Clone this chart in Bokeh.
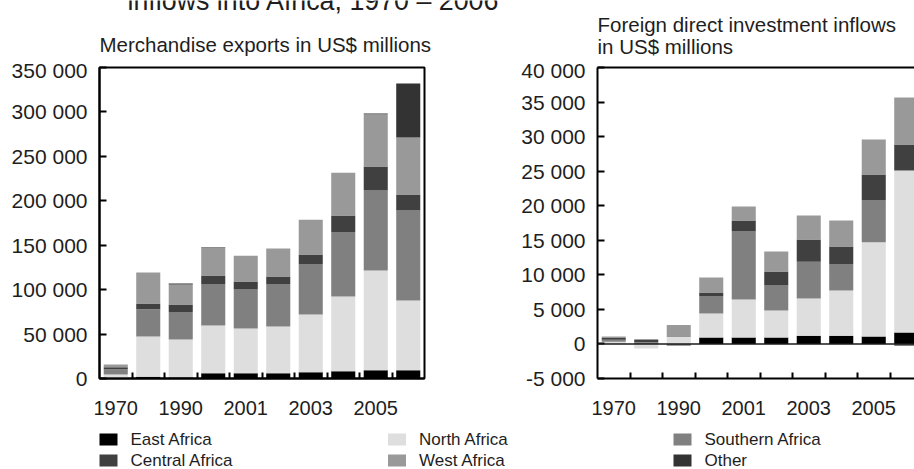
from bokeh.plotting import figure
from bokeh.models import FixedTicker, LinearAxis, Range1d, Span
from bokeh.layouts import row, column
from bokeh.embed import file_html
from bokeh.resources import INLINE
from bokeh.core.properties import value

# ---------------- data ----------------
years = ["1970", "1980", "1990", "2000", "2001", "2002", "2003", "2004", "2005", "2006"]
shown_years = ["1970", "1990", "2001", "2003", "2005"]

regions = ["East Africa", "North Africa", "Southern Africa", "Central Africa", "West Africa", "Other"]
colors = ["#000000", "#dedede", "#808080", "#404040", "#999999", "#333333"]

# Merchandise exports, US$ millions
exp_east     = [1000, 2000, 1500, 6000, 6000, 6000, 7100, 8200, 9400, 9400]
exp_north    = [3500, 45300, 42400, 53600, 50300, 52500, 64900, 84100, 112100, 78400]
exp_southern = [6000, 30700, 30400, 46200, 43900, 47300, 56300, 72000, 90100, 101300]
exp_central  = [2200, 6400, 9000, 10100, 9000, 9000, 11200, 19100, 27000, 18000]
exp_west     = [3100, 34900, 22500, 31200, 28900, 31500, 39100, 48100, 58800, 64100]
exp_other    = [0, 0, 1100, 500, 0, 0, 0, 0, 800, 60800]

# Foreign direct investment inflows, US$ millions
fdi_east     = [0, 0, 0, 930, 930, 930, 1200, 1200, 1070, 1650]
fdi_north    = [330, -670, 1070, 3470, 5490, 3900, 5370, 6520, 13630, 23450]
fdi_southern = [290, 250, -250, 2460, 9840, 3620, 5330, 3780, 6050, -300]
fdi_central  = [250, 390, 80, 580, 1590, 2030, 3200, 2600, 3750, 3750]
fdi_west     = [190, 0, 1590, 2160, 2030, 2890, 3480, 3750, 5100, 6800]
fdi_other    = [0, 0, 0, 0, 0, 0, 0, 0, 0, 0]

exp_ticks = [0, 50000, 100000, 150000, 200000, 250000, 300000, 350000]
exp_tick_labels = ["0", "50 000", "100 000", "150 000", "200 000", "250 000", "300 000", "350 000"]
fdi_ticks = [-5000, 0, 5000, 10000, 15000, 20000, 25000, 30000, 35000, 40000]
fdi_tick_labels = ["-5 000", "0", "5 000", "10 000", "15 000", "20 000", "25 000", "30 000", "35 000", "40 000"]

title_text = "inflows into Africa, 1970 \u2013 2006"
exp_subtitle = "Merchandise exports in US$ millions"
fdi_subtitle = ["Foreign direct investment inflows", "in US$ millions"]

# ---------------- style ----------------
FONT = "Liberation Sans"
TXT = "#1e1e1e"
TICK_FS = "21px"
XLAB_FS = "20px"
SUB_FS = "20.5px"
TITLE_FS = "26.8px"
LEG_FS = "17px"

W = 914
H = 469
HEAD_H = 58          # header strip (titles)
FRAME_TOP = 67       # frame top in page pixels
FRAME_H = 311
CHART_BOTTOM = 425   # bottom of chart row in page pixels
CAT_PX = 32.5
BAR_W = 0.74

xs = list(range(1, len(years) + 1))
year_overrides = {i: (y if y in shown_years else "") for i, y in zip(xs, years)}
major_x = [i for i, y in zip(xs, years) if y in shown_years]
minor_x = [i + 0.5 for i in xs[:-1]]


def stack(p, series):
    n = len(xs)
    pos = [0.0] * n
    neg = [0.0] * n
    for vals, col in zip(series, colors):
        bottoms, tops = [], []
        for i, v in enumerate(vals):
            if v >= 0:
                b = pos[i]; t = b + v; pos[i] = t
            else:
                b = neg[i]; t = b + v; neg[i] = t
            bottoms.append(b); tops.append(t)
        p.vbar(x=xs, bottom=bottoms, top=tops, width=BAR_W, fill_color=col, line_color=None)


def style_axes(p, ticks, labels):
    p.xgrid.visible = False
    p.ygrid.visible = False
    p.background_fill_color = "white"
    p.border_fill_color = "white"
    xa = p.xaxis[0]
    xa.ticker = FixedTicker(ticks=major_x, minor_ticks=minor_x)
    xa.major_label_overrides = year_overrides
    xa.major_tick_line_color = None
    xa.minor_tick_in = 6
    xa.minor_tick_out = 0
    xa.minor_tick_line_width = 2
    xa.minor_tick_line_color = "black"
    xa.axis_line_width = 2
    xa.axis_line_color = "black"
    xa.major_label_text_font = FONT
    xa.major_label_text_font_size = XLAB_FS
    xa.major_label_text_color = TXT
    xa.major_label_standoff = 16
    ya = p.yaxis[0]
    ya.ticker = FixedTicker(ticks=ticks)
    ya.major_label_overrides = {t: l for t, l in zip(ticks, labels)}
    ya.major_tick_in = 7
    ya.major_tick_out = 0
    ya.major_tick_line_width = 2
    ya.major_tick_line_color = "black"
    ya.minor_tick_line_color = None
    ya.axis_line_width = 2
    ya.axis_line_color = "black"
    ya.major_label_text_font = FONT
    ya.major_label_text_font_size = TICK_FS
    ya.major_label_text_color = TXT
    ya.major_label_standoff = 12


TOP_B = FRAME_TOP - HEAD_H
BOT_B = CHART_BOTTOM - FRAME_TOP - FRAME_H

# ---------------- header (titles) ----------------
pH = figure(frame_width=W, frame_height=HEAD_H, min_border=0,
            x_range=Range1d(0, W), y_range=Range1d(HEAD_H, 0),
            x_axis_type=None, y_axis_type=None,
            output_backend="svg", toolbar_location=None, tools="")
pH.outline_line_color = None
pH.xgrid.visible = False
pH.ygrid.visible = False
# y positions are text middles (page pixels from the top)
pH.text(x=[127], y=[0], text=[title_text], text_font=value(FONT), text_font_size=TITLE_FS,
        text_color=TXT, text_baseline="middle", text_align="left")
pH.text(x=[99, 597, 597], y=[43.5, 24, 45.5], text=[exp_subtitle] + fdi_subtitle,
        text_font=value(FONT), text_font_size=SUB_FS,
        text_color=TXT, text_baseline="middle", text_align="left")

# ---------------- left chart ----------------
exp_lo, exp_hi = exp_ticks[0], exp_ticks[-1]
pL = figure(frame_width=325, frame_height=FRAME_H,
            min_border_left=99, min_border_right=76,
            min_border_top=TOP_B, min_border_bottom=BOT_B,
            x_range=Range1d(0.5, 10.5), y_range=Range1d(exp_lo, exp_hi),
            output_backend="svg", toolbar_location=None, tools="")
pL.outline_line_color = "black"
pL.outline_line_width = 2
pL.outline_line_alpha = 1
stack(pL, [exp_east, exp_north, exp_southern, exp_central, exp_west, exp_other])
style_axes(pL, exp_ticks, exp_tick_labels)

# ---------------- right chart ----------------
fdi_lo, fdi_hi = fdi_ticks[0], fdi_ticks[-1]
R_FRAME_W = 317
pR = figure(frame_width=R_FRAME_W, frame_height=FRAME_H,
            min_border_left=97, min_border_right=0,
            min_border_top=TOP_B, min_border_bottom=BOT_B,
            x_range=Range1d(0.5, 0.5 + R_FRAME_W / CAT_PX), y_range=Range1d(fdi_lo, fdi_hi),
            output_backend="svg", toolbar_location=None, tools="")
pR.outline_line_color = None
stack(pR, [fdi_east, fdi_north, fdi_southern, fdi_central, fdi_west, fdi_other])
style_axes(pR, fdi_ticks, fdi_tick_labels)
top_axis = LinearAxis(ticker=FixedTicker(ticks=[]), major_label_text_font_size="0px",
                      major_label_standoff=0, major_tick_in=0, major_tick_out=0,
                      axis_line_width=2, axis_line_color="black",
                      major_tick_line_color=None, minor_tick_line_color=None)
pR.add_layout(top_axis, "above")
pR.add_layout(Span(location=0, dimension="width", line_color="#1a1a1a", line_width=1.5))

# ---------------- legend strip ----------------
LEG_H = H - CHART_BOTTOM
pG = figure(frame_width=W, frame_height=LEG_H, min_border=0,
            x_range=Range1d(0, W), y_range=Range1d(LEG_H, 0),
            x_axis_type=None, y_axis_type=None,
            output_backend="svg", toolbar_location=None, tools="")
pG.outline_line_color = None
pG.xgrid.visible = False
pG.ygrid.visible = False
col_x = [99, 387.5, 673]
row_y = [14, 35]
sq_x, sq_y, tx_x, tx_y = [], [], [], []
for i, name in enumerate(regions):
    cx = col_x[i % 3]
    cy = row_y[i // 3]
    sq_x.append(cx + 9); sq_y.append(cy)
    tx_x.append(cx + 31); tx_y.append(cy)
pG.rect(x=sq_x, y=sq_y, width=18, height=12, width_units="screen", height_units="screen",
        fill_color=colors, line_color=None)
pG.text(x=tx_x, y=tx_y, text=regions, text_font=value(FONT), text_font_size=LEG_FS,
        text_color=TXT, text_baseline="middle", text_align="left")

layout = column(pH, row(pL, pR), pG)
open("out.html", "w").write(file_html(layout, INLINE))
